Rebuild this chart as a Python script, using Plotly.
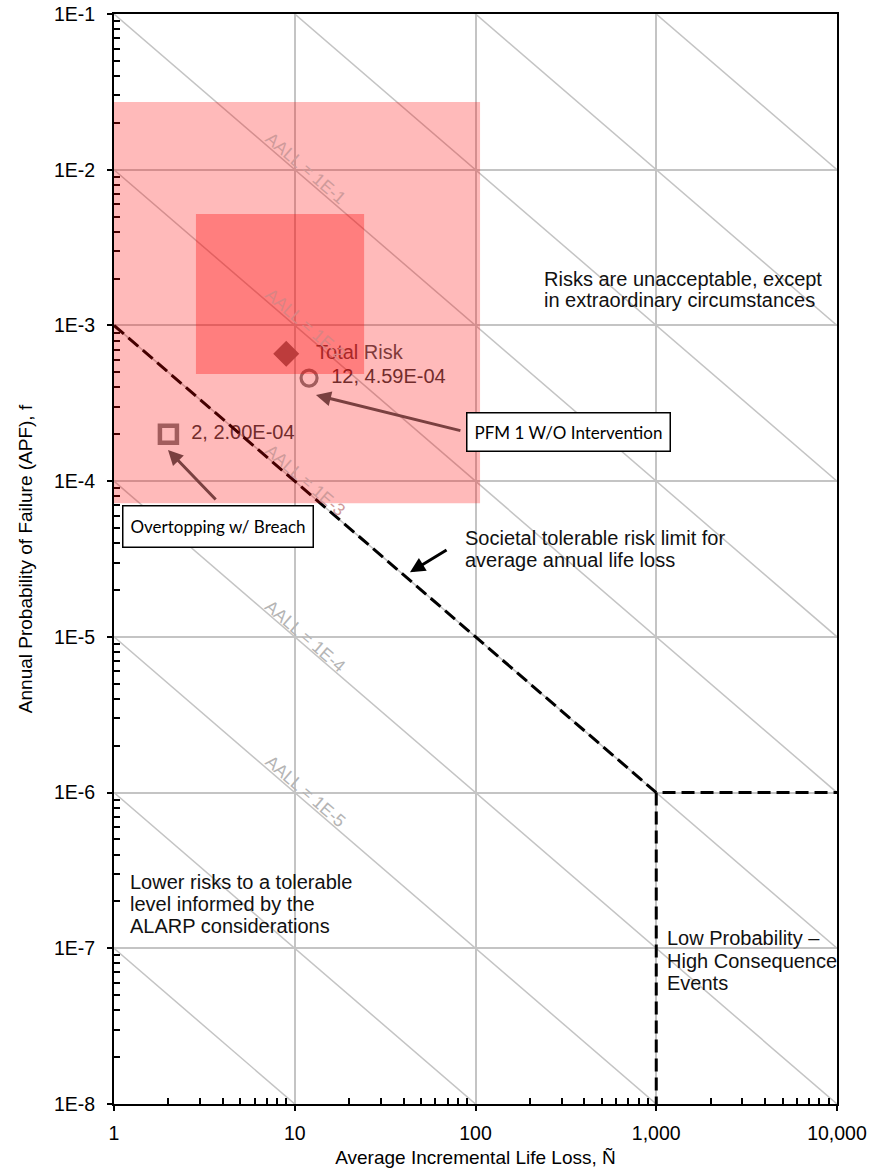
import numpy as np
import plotly.graph_objects as go

# ---- failure modes (average incremental life loss N, annual probability of failure f)
pfm_names = ["Overtopping w/ Breach", "PFM 1 W/O Intervention"]
pfm_life_loss = [2, 12]
pfm_apf = [2.00e-4, 4.59e-4]
pfm_symbols = ["square-open", "circle-open"]
pfm_sizes = [17, 16]
pfm_line_widths = [4.5, 3.2]

total_label = "Total Risk"
total_life_loss = [8.97]
total_apf = [6.59e-4]

# ---- iso-risk lines of constant average annual life loss (AALL = N * f)
aall_levels = [1e-8, 1e-7, 1e-6, 1e-5, 1e-4, 1e-3, 1e-2, 1e-1, 1e0, 1e1, 1e2]
aall_labelled = [1e-1, 1e-2, 1e-3, 1e-4, 1e-5]
aall_label_text = ["AALL = 1E-1", "AALL = 1E-2", "AALL = 1E-3", "AALL = 1E-4", "AALL = 1E-5"]
aall_label_colors = ["#cf9a9a", "#d98484", "#cf9a9a", "#b4b4b4", "#b4b4b4"]
n_span = [1, 10000]

# ---- societal tolerable risk limit and low-probability / high-consequence bounds
limit_life_loss = [1, 1000, 10000]
limit_apf = [1e-3, 1e-6, 1e-6]
lphc_life_loss = [1000, 1000]
lphc_apf = [1e-6, 1e-8]

# ---- uncertainty ranges of the total risk estimate
outer_range_n = [1, 106]
outer_range_f = [7.2e-5, 2.72e-2]
inner_range_n = [2.84, 24.2]
inner_range_f = [4.87e-4, 5.19e-3]

# ---- axes
x_ticks = [1, 10, 100, 1000, 10000]
x_tick_text = ["1", "10", "100", "1,000", "10,000"]
y_ticks = [1e-1, 1e-2, 1e-3, 1e-4, 1e-5, 1e-6, 1e-7, 1e-8]
y_tick_text = ["1E-1", "1E-2", "1E-3", "1E-4", "1E-5", "1E-6", "1E-7", "1E-8"]
x_minor = [d * m for d in [1, 10, 100, 1000] for m in range(2, 10)]
y_minor = [d * m for d in [1e-8, 1e-7, 1e-6, 1e-5, 1e-4, 1e-3, 1e-2] for m in range(2, 10)]

FONT = "Liberation Sans, Arial, sans-serif"
BOX_FONT = "Lato, Open Sans, sans-serif"
GRID = "#c4c4c4"
MARK = "#4a4a4a"

fig = go.Figure()

# iso-risk lines
for a in aall_levels:
    fig.add_trace(go.Scatter(
        x=n_span, y=[a / n for n in n_span], mode="lines",
        line=dict(color=GRID, width=1.5), hoverinfo="skip", showlegend=False))

# failure mode points with their value labels
fig.add_trace(go.Scatter(
    x=pfm_life_loss, y=pfm_apf, mode="markers+text",
    marker=dict(symbol=pfm_symbols, size=pfm_sizes, color=MARK,
                line=dict(color=MARK, width=pfm_line_widths)),
    text=["  %g, %.2E" % (n, f) for n, f in zip(pfm_life_loss, pfm_apf)],
    textposition="middle right",
    textfont=dict(family=FONT, size=20, color="#3d3d3d"),
    showlegend=False))

fig.add_trace(go.Scatter(
    x=total_life_loss, y=total_apf, mode="markers+text",
    marker=dict(symbol="diamond", size=20, color="#7a7a7a", line=dict(width=0)),
    text=["   " + total_label], textposition="middle right",
    textfont=dict(family=FONT, size=20, color="#505050"),
    showlegend=False))

# tolerable risk limit
fig.add_trace(go.Scatter(
    x=limit_life_loss, y=limit_apf, mode="lines",
    line=dict(color="black", width=3, dash="13px,6px"), showlegend=False))
fig.add_trace(go.Scatter(
    x=lphc_life_loss, y=lphc_apf, mode="lines",
    line=dict(color="black", width=3, dash="13px,6px"), showlegend=False))

# uncertainty boxes drawn as translucent overlays
fig.add_shape(type="rect", xref="x", yref="y",
              x0=outer_range_n[0], x1=outer_range_n[1],
              y0=outer_range_f[0], y1=outer_range_f[1],
              fillcolor="rgba(255,0,0,0.27)", line=dict(width=0), layer="above")
fig.add_shape(type="rect", xref="x", yref="y",
              x0=inner_range_n[0], x1=inner_range_n[1],
              y0=inner_range_f[0], y1=inner_range_f[1],
              fillcolor="rgba(255,0,0,0.32)", line=dict(width=0), layer="above")

# AALL labels along the iso-risk lines
slope_deg = 40.74
for a, txt, col in zip(aall_labelled, aall_label_text, aall_label_colors):
    fig.add_annotation(x=1.03, y=np.log10(a) - 1.03, xref="x", yref="y",
                       text=txt, showarrow=False, textangle=slope_deg,
                       xshift=5, yshift=6,
                       font=dict(family=FONT, size=17.5, color=col))

# region descriptions (one annotation per line for tight line spacing)
def add_lines(lines, lx, ly, step=22):
    for i, line in enumerate(lines):
        fig.add_annotation(x=lx, y=ly, xref="x", yref="y", text=line,
                           showarrow=False, xanchor="left", yanchor="middle",
                           yshift=-i * step,
                           font=dict(family=FONT, size=20, color="#111111"))

add_lines(["Risks are unacceptable, except", "in extraordinary circumstances"], 2.368, -2.702, 21)
add_lines(["Societal tolerable risk limit for", "average annual life loss"], 1.931, -4.365)
add_lines(["Lower risks to a tolerable", "level informed by the", "ALARP considerations"], 0.0775, -6.575)
add_lines(["Low Probability \u2013", "High Consequence", "Events"], 3.048, -6.934, 22.5)

# arrows
def add_arrow(head, tail, color):
    fig.add_annotation(x=np.log10(head[0]), y=np.log10(head[1]), xref="x", yref="y",
                       ax=np.log10(tail[0]), ay=np.log10(tail[1]), axref="x", ayref="y",
                       text="", showarrow=True, arrowhead=2, arrowsize=1,
                       arrowwidth=3, arrowcolor=color, standoff=0, startstandoff=0)

add_arrow((13.1, 3.57e-4), (84.1, 2.10e-4), "#7a4040")
add_arrow((1.99, 1.585e-4), (3.72, 7.45e-5), "#7a4040")
add_arrow((43.4, 2.60e-5), (70.5, 3.66e-5), "black")

# failure mode call-out boxes
fig.add_annotation(x=2.517, y=-3.685, xref="x", yref="y", text=pfm_names[1],
                   showarrow=False, width=196, height=31, borderpad=3,
                   bgcolor="white", bordercolor="black", borderwidth=1.5,
                   font=dict(family=BOX_FONT, size=17, color="black"))
fig.add_annotation(x=0.578, y=-4.292, xref="x", yref="y", text=pfm_names[0],
                   showarrow=False, width=183, height=34, borderpad=3,
                   bgcolor="white", bordercolor="black", borderwidth=1.5,
                   font=dict(family=BOX_FONT, size=17, color="black"))

axis_common = dict(
    type="log", showline=True, linecolor="black", linewidth=2, mirror=True,
    showgrid=True, gridcolor=GRID, gridwidth=1.5, zeroline=False,
    ticks="outside", ticklen=5, tickwidth=1.5, tickcolor="black",
    tickfont=dict(family=FONT, size=19.5, color="black"),
)

fig.update_xaxes(
    **axis_common, range=[0, 4], tickmode="array", tickvals=x_ticks, ticktext=x_tick_text,
    ticklabelstandoff=6,
    minor=dict(ticks="inside", ticklen=6, tickwidth=1.5, tickcolor="black",
               tickmode="array", tickvals=x_minor, showgrid=False),
    title=dict(text="Average Incremental Life Loss, \u00d1", standoff=10,
               font=dict(family=FONT, size=19, color="black")),
)
fig.update_yaxes(
    **axis_common, range=[-8, -1], tickmode="array", tickvals=y_ticks, ticktext=y_tick_text,
    ticklabelstandoff=8,
    minor=dict(ticks="inside", ticklen=6, tickwidth=1.5, tickcolor="black",
               tickmode="array", tickvals=y_minor, showgrid=False),
    title=dict(text="Annual Probability of Failure (APF), f", standoff=16,
               font=dict(family=FONT, size=19, color="black")),
)

fig.update_layout(
    width=872, height=1168,
    margin=dict(l=114, r=35, t=14, b=64, autoexpand=False),
    paper_bgcolor="white", plot_bgcolor="white",
    showlegend=False,
)

fig.write_html("out.html")
